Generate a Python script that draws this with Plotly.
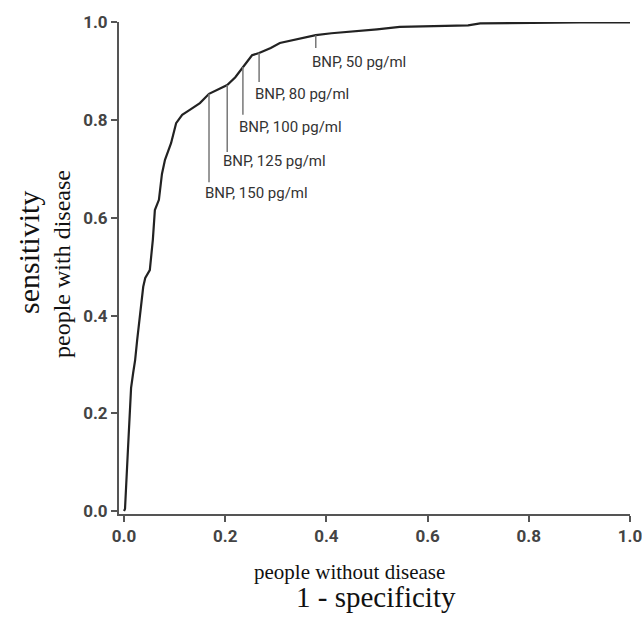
import plotly.graph_objects as go

# ROC curve points (1 - specificity, sensitivity)
fpr = [0.0, 0.002, 0.008, 0.014, 0.018, 0.022, 0.026, 0.032, 0.038, 0.042, 0.051,
       0.057, 0.061, 0.069, 0.075, 0.081, 0.093, 0.103, 0.115, 0.130, 0.150, 0.168,
       0.185, 0.204, 0.220, 0.235, 0.253, 0.267, 0.290, 0.308, 0.340, 0.379, 0.410,
       0.447, 0.500, 0.545, 0.600, 0.625, 0.680, 0.704, 0.760, 0.828, 0.900, 1.0]
tpr = [0.0, 0.004, 0.130, 0.252, 0.282, 0.309, 0.350, 0.405, 0.459, 0.477, 0.493,
       0.555, 0.616, 0.637, 0.690, 0.719, 0.753, 0.794, 0.811, 0.821, 0.835, 0.854,
       0.862, 0.872, 0.888, 0.909, 0.933, 0.9375, 0.948, 0.958, 0.965, 0.974, 0.978,
       0.981, 0.986, 0.991, 0.992, 0.993, 0.994, 0.998, 0.999, 1.0, 1.0, 1.0]

# BNP cut-off markers
bnp_labels = ["BNP, 150 pg/ml", "BNP, 125 pg/ml", "BNP, 100 pg/ml", "BNP, 80 pg/ml", "BNP, 50 pg/ml"]
bnp_x = [0.168, 0.204, 0.235, 0.267, 0.379]
bnp_y = [0.854, 0.872, 0.909, 0.9375, 0.974]

x_ticks = [0.0, 0.2, 0.4, 0.6, 0.8, 1.0]
y_ticks = [0.0, 0.2, 0.4, 0.6, 0.8, 1.0]
x_tick_text = ["0.0", "0.2", "0.4", "0.6", "0.8", "1.0"]
y_tick_text = ["0.0", "0.2", "0.4", "0.6", "0.8", "1.0"]

# layout (leader-line ends and label heights, in data units)
line_bottom = [0.673, 0.735, 0.811, 0.878, 0.948]
label_y = [0.651, 0.717, 0.787, 0.854, 0.920]

W, H = 642, 617
L, R, T, B = 119, 12, 22, 103
pw, ph = W - L - R, H - T - B

def px(xp):
    return (xp - L) / pw

def py(yp):
    return (H - B - yp) / ph

AX = "#555555"
SANS = "Roboto"
TICKFONT = dict(family=SANS, size=17, color="#444444", weight="bold")

fig = go.Figure()
fig.add_trace(go.Scatter(x=fpr, y=tpr, mode="lines",
                         line=dict(color="#222222", width=2.2), showlegend=False,
                         hoverinfo="skip"))

for lab, x, y, yb, ly in zip(bnp_labels, bnp_x, bnp_y, line_bottom, label_y):
    fig.add_shape(type="line", xref="x", yref="y", x0=x, x1=x, y0=y, y1=yb,
                  line=dict(color="#777777", width=1.5))
    fig.add_annotation(x=x, y=ly, xref="x", yref="y", text=lab, showarrow=False,
                       xanchor="left", yanchor="middle", xshift=-6,
                       font=dict(family=SANS, size=15, color="#333333"))

SERIF = "Liberation Serif"
fig.add_annotation(x=px(28), y=py(253), xref="paper", yref="paper", text="sensitivity",
                   textangle=-90, showarrow=False, xanchor="center", yanchor="middle",
                   font=dict(family=SERIF, size=30, color="#111111"))
fig.add_annotation(x=px(62), y=py(264), xref="paper", yref="paper", text="people with disease",
                   textangle=-90, showarrow=False, xanchor="center", yanchor="middle",
                   font=dict(family=SERIF, size=24, color="#111111"))
fig.add_annotation(x=px(349), y=py(572), xref="paper", yref="paper", text="people without disease",
                   showarrow=False, xanchor="center", yanchor="middle",
                   font=dict(family=SERIF, size=21, color="#111111"))
fig.add_annotation(x=px(376), y=py(597), xref="paper", yref="paper", text="1 - specificity",
                   showarrow=False, xanchor="center", yanchor="middle",
                   font=dict(family=SERIF, size=29, color="#111111"))

fig.update_layout(
    width=W, height=H,
    margin=dict(l=L, r=R, t=T, b=B, pad=0, autoexpand=False),
    paper_bgcolor="white", plot_bgcolor="white",
    xaxis=dict(range=[-5 / 506, 1.0], tickvals=x_ticks, ticktext=x_tick_text,
               showgrid=False, zeroline=False, showline=True, linecolor=AX, linewidth=2,
               ticks="outside", ticklen=6, tickwidth=2, tickcolor=AX, tickfont=TICKFONT,
               ticklabeloverflow="allow", automargin=False),
    yaxis=dict(range=[-3 / 488.5, 1.001], tickvals=y_ticks, ticktext=y_tick_text,
               showgrid=False, zeroline=False, showline=True, linecolor=AX, linewidth=2,
               ticks="outside", ticklen=6, tickwidth=2, tickcolor=AX, tickfont=TICKFONT,
               ticklabeloverflow="allow", automargin=False),
)

fig.write_html("out.html")
